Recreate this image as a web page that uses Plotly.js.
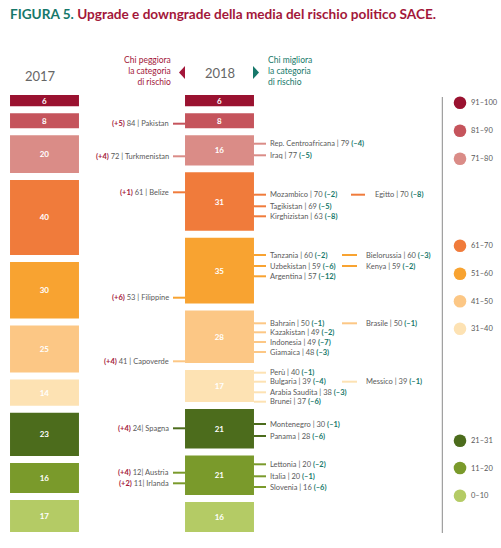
<!DOCTYPE html>
<html><head><meta charset="utf-8">
<script src="https://cdn.plot.ly/plotly-3.0.1.min.js"></script>
<style>html,body{margin:0;padding:0;background:#fff}#chart{width:501px;height:548px}</style>
</head><body><div id="chart"></div>
<script>
// ---------- DATA ----------
const bands = ['91-100','81-90','71-80','61-70','51-60','41-50','31-40','21-31','11-20','0-10'];
const counts2017 = [6, 8, 20, 40, 30, 25, 14, 23, 16, 17];
const counts2018 = [6, 8, 16, 31, 35, 28, 17, 21, 21, 16];
const years = ['2017', '2018'];

// countries that worsen (downgrade)
const downCountries = ['Pakistan','Turkmenistan','Belize','Filippine','Capoverde','Spagna','Austria','Irlanda'];
const downScores = [84, 72, 61, 53, 41, 24, 12, 11];
const downDeltas = ['+5','+4','+1','+6','+4','+4','+4','+2'];
const downBands = [1, 2, 3, 4, 5, 7, 8, 8];

// countries that improve (upgrade)
const upCountries = ['Rep. Centroafricana','Iraq','Mozambico','Egitto','Tagikistan','Kirghizistan',
  'Tanzania','Bielorussia','Uzbekistan','Kenya','Argentina',
  'Bahrain','Brasile','Kazakistan','Indonesia','Giamaica',
  'Perù','Bulgaria','Messico','Arabia Saudita','Brunei',
  'Montenegro','Panama','Lettonia','Italia','Slovenia'];
const upScores = [79,77,70,70,69,63,60,60,59,59,57,50,50,49,49,48,40,39,39,38,37,30,28,20,20,16];
const upDeltas = ['–4','–5','–2','–8','–5','–8','–2','–3','–6','–2','–12','–1','–1','–2','–7','–3','–1','–4','–1','–3','–6','–1','–6','–2','–1','–6'];
const upBands = [2,2,3,3,3,3,4,4,4,4,4,5,5,5,5,5,6,6,6,6,6,7,7,8,8,8];

// ---------- STYLE / LAYOUT CONSTANTS ----------
const bandColors = ['#9a1230','#c5545c','#da8c87','#f07b3b','#f8a331','#fcc785','#fde2b3','#4c6c1c','#7a9a2b','#b4cb65'];
const RED = '#a3173a', TEAL = '#16786a', GRAY = '#5a5a5a';
const FONT = 'Lato, "Open Sans", sans-serif';
const W = 501, H = 548;
const GAP = 3.72;           // gap between blocks, in country units
const downY = [123.7,156.3,192.3,297.7,361.3,428.3,472.7,483.3];
const upY = [143.7,155.3,194.7,194.7,206.3,216.3,255,255,266,266,276.3,323.3,323.3,332.3,342,352,372.7,381.7,381.7,392.3,401.7,424,436,464.3,476.3,487];
const upColumn = [0,0,0,2,0,0,0,1,0,1,0,0,1,0,0,0,0,0,1,0,0,0,0,0,0,0];
const colLineX0 = [254, 342, 351], colLineX1 = [266, 357, 365], colTextX = [268, 364, 372.5];
const legendY = [102.7,130.7,158.7,245.7,273.7,301.3,328.7,440.7,468,495.7];

const px = x => x / W;
const py = y => 1 - y / H;

// ---------- BARS ----------
const traces = [];
let cum17 = 0, cum18 = 0;
bands.forEach((b, i) => {
  traces.push({
    type: 'bar', name: b, x: years, y: [counts2017[i], counts2018[i]],
    base: [cum17 + i * GAP, cum18 + i * GAP],
    width: 0.394,
    marker: { color: bandColors[i], line: { width: 0 } },
    text: [String(counts2017[i]), String(counts2018[i])],
    textposition: 'inside', insidetextanchor: 'middle', constraintext: 'none', textangle: 0,
    textfont: { family: FONT, size: 8, color: '#ffffff', weight: 700 },
    hoverinfo: 'skip', showlegend: false
  });
  cum17 += counts2017[i]; cum18 += counts2018[i];
});
const total = Math.max(cum17, cum18) + (bands.length - 1) * GAP;

const annotations = [];
const shapes = [];

// title
annotations.push({
  xref: 'paper', yref: 'paper', x: px(8), y: py(14), xanchor: 'left', yanchor: 'middle', showarrow: false,
  text: '<b><span style="color:' + TEAL + '">FIGURA 5.</span> <span style="color:' + RED + '">Upgrade e downgrade della media del rischio politico SACE.</span></b>',
  font: { family: FONT, size: 13.6 }
});
// year headers
annotations.push({ xref: 'paper', yref: 'paper', x: px(40.5), y: py(76.5), xanchor: 'center', yanchor: 'middle', showarrow: false,
  text: years[0], font: { family: FONT, size: 13, color: '#666' } });
annotations.push({ xref: 'paper', yref: 'paper', x: px(219.5), y: py(73), xanchor: 'center', yanchor: 'middle', showarrow: false,
  text: years[1], font: { family: FONT, size: 13, color: '#666' } });
annotations.push({ xref: 'paper', yref: 'paper', x: px(172.5), y: py(70.7), xanchor: 'right', yanchor: 'middle', align: 'right', showarrow: false,
  text: 'Chi peggiora<br>la categoria<br>di rischio', font: { family: FONT, size: 8.5, color: RED } });
annotations.push({ xref: 'paper', yref: 'paper', x: px(265.5), y: py(70.7), xanchor: 'left', yanchor: 'middle', align: 'left', showarrow: false,
  text: 'Chi migliora<br>la categoria<br>di rischio', font: { family: FONT, size: 8.5, color: TEAL } });
// triangles
shapes.push({ type: 'path', xref: 'paper', yref: 'paper', line: { width: 0 }, fillcolor: RED,
  path: `M${px(185)},${py(66)} L${px(179)},${py(72.5)} L${px(185)},${py(79)} Z` });
shapes.push({ type: 'path', xref: 'paper', yref: 'paper', line: { width: 0 }, fillcolor: TEAL,
  path: `M${px(253)},${py(66)} L${px(259)},${py(72.5)} L${px(253)},${py(79)} Z` });

// downgrade labels
downCountries.forEach((c, i) => {
  const sep = (downScores[i] < 30) ? '| ' : ' | ';
  annotations.push({ xref: 'paper', yref: 'paper', x: px(171), y: py(downY[i]), xanchor: 'right', yanchor: 'middle', showarrow: false,
    text: '<b><span style="color:' + RED + '">(' + downDeltas[i] + ')</span></b> ' + downScores[i] + sep + c,
    font: { family: FONT, size: 7.5, color: GRAY } });
  shapes.push({ type: 'line', xref: 'paper', yref: 'paper', x0: px(173), x1: px(185), y0: py(downY[i]), y1: py(downY[i]),
    line: { color: bandColors[downBands[i]], width: 2 } });
});
// upgrade labels
upCountries.forEach((c, i) => {
  const col = upColumn[i];
  annotations.push({ xref: 'paper', yref: 'paper', x: px(colTextX[col]), y: py(upY[i]), xanchor: 'left', yanchor: 'middle', showarrow: false,
    text: c + ' | ' + upScores[i] + ' <b><span style="color:' + TEAL + '">(' + upDeltas[i] + ')</span></b>',
    font: { family: FONT, size: 7.5, color: GRAY } });
  shapes.push({ type: 'line', xref: 'paper', yref: 'paper', x0: px(colLineX0[col]), x1: px(colLineX1[col]), y0: py(upY[i]), y1: py(upY[i]),
    line: { color: bandColors[upBands[i]], width: 2 } });
});

// legend
shapes.push({ type: 'line', xref: 'paper', yref: 'paper', x0: px(442.3), x1: px(442.3), y0: py(97), y1: py(533),
  line: { color: '#8a8a8a', width: 1 } });
bands.forEach((b, i) => {
  const r = 6.3;
  shapes.push({ type: 'circle', xref: 'paper', yref: 'paper', line: { width: 0 }, fillcolor: bandColors[i],
    x0: px(460 - r), x1: px(460 + r), y0: py(legendY[i] - r), y1: py(legendY[i] + r) });
  annotations.push({ xref: 'paper', yref: 'paper', x: px(468.5), y: py(legendY[i]), xanchor: 'left', yanchor: 'middle', showarrow: false,
    text: b.replace('-', '–'), font: { family: FONT, size: 7.5, color: GRAY } });
});

const xStart = -44.5 / 175, xEnd = (W - 44.5) / 175;
const layout = {
  width: W, height: H,
  margin: { l: 0, r: 0, t: 0, b: 0, pad: 0 },
  paper_bgcolor: '#ffffff', plot_bgcolor: 'rgba(0,0,0,0)',
  barmode: 'overlay',
  showlegend: false,
  xaxis: { type: 'category', range: [xStart, xEnd], visible: false, fixedrange: true },
  yaxis: { range: [total, 0], domain: [1 - 532 / H, 1 - 95 / H], visible: false, fixedrange: true },
  annotations: annotations,
  shapes: shapes,
  font: { family: FONT }
};
Plotly.newPlot('chart', traces, layout, { displayModeBar: false, staticPlot: true });
</script>
</body></html>
